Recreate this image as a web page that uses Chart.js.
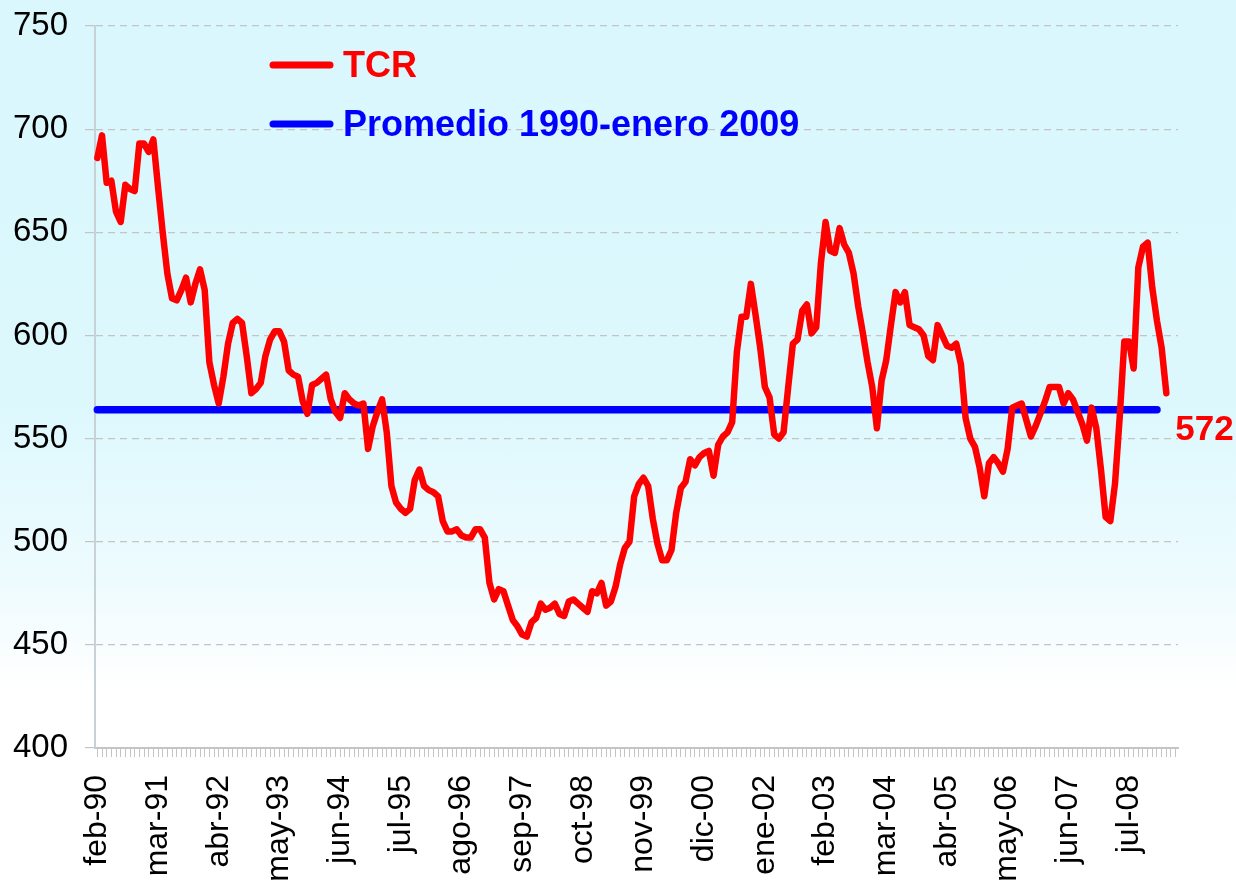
<!DOCTYPE html>
<html>
<head>
<meta charset="utf-8">
<script src="https://cdn.jsdelivr.net/npm/chart.js@4"></script>
<style>
    html, body {
        margin: 0;
        padding: 0;
    }
    body {
        width: 1236px;
        height: 885px;
        background: linear-gradient(to bottom, #d9f7fd 0%, #dcf8fd 45%, #eefbfe 66%, #ffffff 78%, #ffffff 100%);
        overflow: hidden;
    }
</style>
</head>
<body>
<canvas id="tcrChart" width="1236" height="885"></canvas>
<script>
const mesNombres = ['ene', 'feb', 'mar', 'abr', 'may', 'jun', 'jul', 'ago', 'sep', 'oct', 'nov', 'dic'];

// feb-90 .. may-09, una categoria por mes
const meses = [];
for (let i = 0; i < 232; i++) {
    const m = (1 + i) % 12;
    const y = 1990 + Math.floor((1 + i) / 12);
    meses.push(mesNombres[m] + '-' + String(y).slice(2));
}

// tipo de cambio real, feb-90 .. mar-09
const tcr = [
    686, 697, 674, 675, 660, 655, 673, 671, 670, 693,
    693, 689, 695, 672, 650, 630, 618, 617, 622, 628,
    616, 625, 632, 622, 587, 576, 567, 580, 596, 606,
    608, 606, 590, 572, 574, 577, 590, 598, 602, 602,
    597, 583, 581, 580, 568, 562, 576, 577, 579, 581,
    569, 563, 560, 572, 569, 567, 566, 567, 545, 556,
    563, 569, 553, 527, 519, 516, 514, 516, 530, 535,
    527, 525, 524, 522, 510, 505, 505, 506, 503, 502,
    502, 506, 506, 502, 480, 472, 477, 476, 469, 462,
    459, 455, 454, 461, 463, 470, 467, 468, 470, 465,
    464, 471, 472, 470, 468, 466, 476, 475, 480, 469,
    471, 478, 489, 497, 500, 522, 528, 531, 527, 511,
    499, 491, 491, 496, 514, 526, 529, 540, 537, 541,
    543, 544, 532, 547, 551, 553, 558, 592, 609, 609,
    625, 610, 594, 575, 570, 552, 550, 553, 575, 596,
    598, 612, 615, 601, 604, 635, 655, 641, 640, 652,
    644, 640, 630, 614, 601, 587, 575, 555, 578, 588,
    605, 621, 616, 621, 605, 604, 603, 600, 590, 588,
    605, 600, 595, 594, 596, 586, 560, 550, 546, 536,
    522, 538, 541, 538, 534, 545, 565, 566, 567, 559,
    551, 556, 562, 568, 575, 575, 575, 567, 572, 569,
    563, 557, 549, 565, 555, 535, 512, 510, 528, 560,
    597, 597, 584, 633, 643, 645, 623, 607, 594, 572
];

// promedio 1990 - enero 2009
const promedio = 564;
const promedioDesde = 'feb-90';
const promedioHasta = 'ene-09';

const yTicks = [400, 450, 500, 550, 600, 650, 700, 750];

const fuente = "'Liberation Sans', Arial, sans-serif";

const leyendaPlugin = {
    id: 'leyendaPlugin',
    afterDatasetsDraw(chart) {
        const c = chart.ctx;
        c.save();
        // leyenda
        const items = [
            { text: chart.data.datasets[0].label, color: '#ff0000', y: 65 },
            { text: chart.data.datasets[1].label, color: '#0000ff', y: 124 }
        ];
        items.forEach(function (it) {
            c.strokeStyle = it.color;
            c.lineWidth = 7;
            c.lineCap = 'round';
            c.beginPath();
            c.moveTo(273, it.y);
            c.lineTo(330, it.y);
            c.stroke();
            c.fillStyle = it.color;
            c.font = 'bold 36px ' + fuente;
            c.textAlign = 'left';
            c.textBaseline = 'middle';
            c.fillText(it.text, 343, it.y + 2);
        });
        // valor final
        const meta = chart.getDatasetMeta(0);
        const last = meta.data[meta.data.length - 1];
        c.fillStyle = '#ff0000';
        c.font = 'bold 35px ' + fuente;
        c.textAlign = 'left';
        c.textBaseline = 'middle';
        c.fillText(String(tcr[tcr.length - 1]), last.x + 9, last.y + 37);
        c.restore();
    }
};

document.addEventListener('DOMContentLoaded', function () {
    const ctx = document.getElementById('tcrChart').getContext('2d');
    const myChart = new Chart(ctx, {
        type: 'line',
        data: {
            labels: meses,
            datasets: [{
                label: 'TCR',
                data: tcr,
                borderColor: '#ff0000',
                borderWidth: 6.5,
                pointRadius: 0,
                tension: 0,
                fill: false,
                borderJoinStyle: 'round',
                borderCapStyle: 'round'
            }, {
                label: 'Promedio 1990-enero 2009',
                data: [{ x: promedioDesde, y: promedio }, { x: promedioHasta, y: promedio }],
                borderColor: '#0000ff',
                borderWidth: 7.5,
                pointRadius: 0,
                fill: false,
                borderCapStyle: 'round'
            }]
        },
        options: {
            responsive: false,
            animation: false,
            layout: {
                padding: { top: 26, right: 58, left: 0, bottom: 0 }
            },
            plugins: {
                legend: { display: false },
                tooltip: { enabled: false }
            },
            scales: {
                x: {
                    type: 'category',
                    offset: true,
                    grid: {
                        drawOnChartArea: false,
                        tickLength: 9,
                        color: '#c4c4c4',
                        lineWidth: 1
                    },
                    border: { display: true, color: '#c4c4c4', width: 2 },
                    ticks: {
                        autoSkip: false,
                        minRotation: 90,
                        maxRotation: 90,
                        padding: 18,
                        color: '#000000',
                        font: { family: fuente, size: 32 },
                        callback: function (value, index) {
                            return index % 13 === 0 ? meses[index] : '';
                        }
                    },
                    afterFit: function (scale) {
                        scale.height = 137;
                    }
                },
                y: {
                    min: yTicks[0],
                    max: yTicks[yTicks.length - 1],
                    afterBuildTicks: function (scale) {
                        scale.ticks = yTicks.map(function (v) { return { value: v }; });
                    },
                    grid: {
                        color: '#c4c4c4',
                        lineWidth: 1.2,
                        tickLength: 10,
                        tickColor: '#c4c4c4'
                    },
                    border: { display: true, color: '#c8d2d6', width: 2, dash: [7, 5] },
                    ticks: {
                        padding: 17,
                        color: '#000000',
                        font: { family: fuente, size: 33 }
                    },
                    afterFit: function (scale) {
                        scale.width = 95;
                        scale.paddingTop = 0;
                        scale.paddingBottom = 0;
                    }
                }
            }
        },
        plugins: [leyendaPlugin]
    });
});
</script>
</body>
</html>
